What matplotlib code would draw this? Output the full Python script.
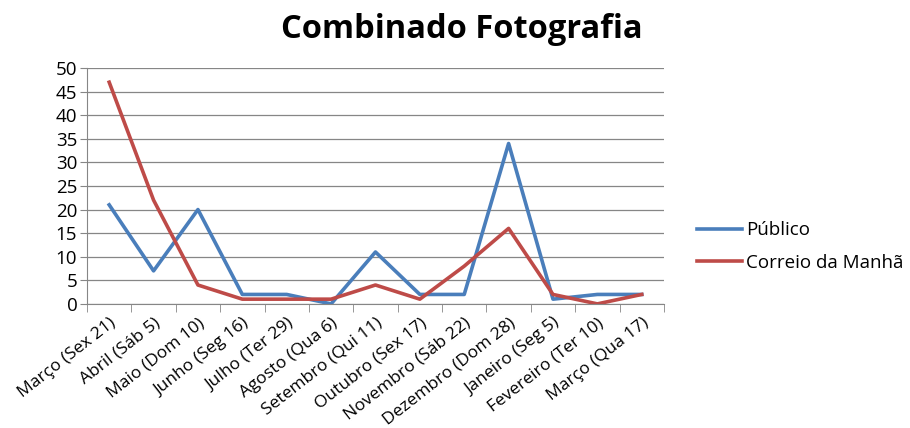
import matplotlib
matplotlib.use("Agg")
import matplotlib.pyplot as plt
import numpy as np

categories = ["Março (Sex 21)", "Abril (Sáb 5)", "Maio (Dom 10)", "Junho (Seg 16)",
              "Julho (Ter 29)", "Agosto (Qua 6)", "Setembro (Qui 11)", "Outubro (Sex 17)",
              "Novembro (Sáb 22)", "Dezembro (Dom 28)", "Janeiro (Seg 5)",
              "Fevereiro (Ter 10)", "Março (Qua 17)"]
publico = [21, 7, 20, 2, 2, 0, 11, 2, 2, 34, 1, 2, 2]
correio = [47, 22, 4, 1, 1, 1, 4, 1, 8, 16, 2, 0, 2]

plt.rcParams['font.family'] = ['Open Sans', 'DejaVu Sans']

fig = plt.figure(figsize=(9.1, 4.28), dpi=100)
ax = fig.add_axes([0.0956, 0.290, 0.634, 0.551])

x = np.arange(len(categories))
ax.plot(x, publico, color='#4A7EBB', linewidth=2.6, label='Público')
ax.plot(x, correio, color='#BE4B48', linewidth=2.6, label='Correio da Manhã')

ax.set_xlim(-0.5, len(categories) - 0.5)
ax.set_ylim(0, 50)
ax.set_yticks(range(0, 51, 5))
ax.tick_params(axis='y', labelsize=13.5, length=5, color='#868686', pad=2)
ax.set_xticks(x)
ax.set_xticklabels(categories, rotation=38, ha='right', rotation_mode='anchor', fontsize=12.5)
ax.tick_params(axis='x', length=0, pad=8)
ax.set_xticks(np.arange(-0.5, len(categories), 1), minor=True)
ax.tick_params(axis='x', which='minor', length=6, color='#868686')

ax.grid(axis='y', color='#868686', linewidth=0.9)
ax.set_axisbelow(True)
for s in ['top', 'right']:
    ax.spines[s].set_visible(False)
for s in ['left', 'bottom']:
    ax.spines[s].set_color('#868686')

fig.text(0.508, 0.93, 'Combinado Fotografia', fontsize=23.5, fontweight='bold',
         ha='center', va='center')
ax.legend(loc='center left', bbox_to_anchor=(0.766, 0.424), bbox_transform=fig.transFigure,
          frameon=False, fontsize=13.5, handlelength=2.4, handletextpad=0.2,
          labelspacing=0.75, borderpad=0, borderaxespad=0)

fig.savefig('out.png', dpi=100)
